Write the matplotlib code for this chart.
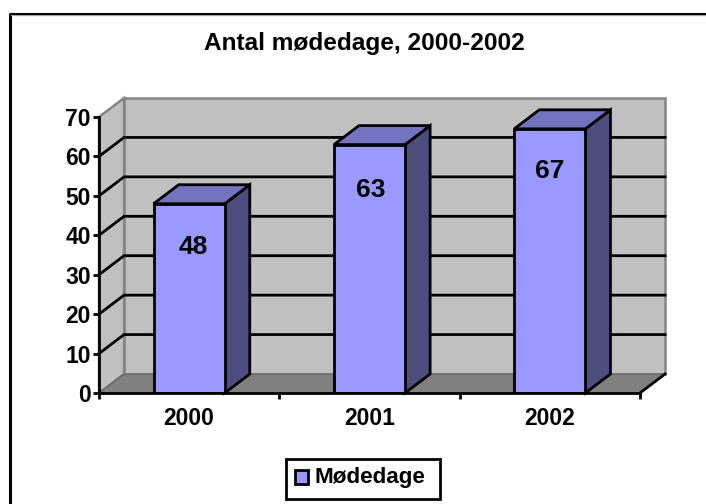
import matplotlib
matplotlib.use("Agg")
import matplotlib.pyplot as plt
from matplotlib.patches import Polygon, Rectangle

years = ["2000", "2001", "2002"]
modedage = [48, 63, 67]
yticks = [0, 10, 20, 30, 40, 50, 60, 70]
series_name = "Mødedage"
title = "Antal mødedage, 2000-2002"

W, H = 706, 504
plt.rcParams['font.family'] = ['Liberation Sans', 'DejaVu Sans']
plt.rcParams['font.weight'] = 'bold'

fig = plt.figure(figsize=(W / 100, H / 100), dpi=100)

# outer frame, only top and left edges are drawn
bg = fig.add_axes([0, 0, 1, 1])
bg.set_xlim(0, W)
bg.set_ylim(H, 0)
bg.axis('off')
bg.plot([9.5, 9.5, W], [H, 13.5, 13.5], color='black', lw=2.2, solid_capstyle='butt')
bg.plot([11, W], [15, 15], color='#a0a0a0', lw=0.8)

left, right, bottom, top = 99, 640, 393, 117
ax = fig.add_axes([left / W, 1 - bottom / H, (right - left) / W, (bottom - top) / H])
ax.set_xlim(-0.5, 2.5)
ax.set_ylim(0, 70)
ax.patch.set_alpha(0)

# depth of the 3d box in data units
dx = 25 / 180
dy = 19 / ((bottom - top) / 70)
bar_w = 71 / 180
black_lw = 2.0

def poly(pts, fc, ec, lw, z):
    ax.add_patch(Polygon(pts, closed=True, facecolor=fc, edgecolor=ec, lw=lw,
                         zorder=z, clip_on=False, joinstyle='miter'))

x0, x1 = -0.5, 2.5
# back wall, side wall and floor
poly([(x0 + dx, dy), (x1 + dx, dy), (x1 + dx, 70 + dy), (x0 + dx, 70 + dy)], '#c0c0c0', '#858585', 1.8, 1)
poly([(x0, 0), (x0 + dx, dy), (x0 + dx, 70 + dy), (x0, 70)], '#c0c0c0', '#858585', 1.8, 1)
poly([(x0, 0), (x1, 0), (x1 + dx, dy), (x0 + dx, dy)], '#808080', '#606060', 0.8, 1)
ax.plot([x1, x1 + dx], [0, dy], color='black', lw=black_lw, zorder=2, clip_on=False)

for v in yticks[1:-1]:
    ax.plot([x0, x0 + dx, x1 + dx], [v, v + dy, v + dy], color='black', lw=black_lw,
            zorder=2, clip_on=False, solid_joinstyle='miter')

# bars: front from ax.bar, top and side faces from the same values
for i, v in enumerate(modedage):
    a, b = i - bar_w / 2 - 0.0, i + bar_w / 2
    poly([(b, 0), (b + dx, dy), (b + dx, v + dy), (b, v)], '#4d4d80', 'black', black_lw, 3)
    poly([(a, v), (b, v), (b + dx, v + dy), (a + dx, v + dy)], '#7373bf', 'black', black_lw, 3)
ax.bar(range(len(years)), modedage, width=bar_w, color='#9999ff', edgecolor='black',
       linewidth=black_lw, zorder=4)

# value labels
label_px = [(193, 247), (371, 190), (550, 171)]
for v, (px, py) in zip(modedage, label_px):
    bg.text(px, py, str(v), ha='center', va='center', fontsize=19, fontweight='bold', zorder=10)
bg.set_zorder(5)

for s in ['top', 'right']:
    ax.spines[s].set_visible(False)
for s in ['left', 'bottom']:
    ax.spines[s].set_linewidth(black_lw)
    ax.spines[s].set_zorder(6)

ax.set_yticks(yticks)
ax.set_yticklabels([str(v) for v in yticks], fontsize=16.5, fontweight='bold')
ax.set_xticks([-0.5, 0.5, 1.5, 2.5], minor=False)
ax.set_xticklabels([])
ax.set_xticks(range(len(years)), minor=True)
ax.set_xticklabels(years, minor=True, fontsize=16.5, fontweight='bold')
ax.tick_params(axis='x', which='major', length=4.5, width=black_lw)
ax.tick_params(axis='x', which='minor', length=0, pad=10)
ax.tick_params(axis='y', length=4.5, width=black_lw, pad=1.5)

bg.text(364, 43.5, title, ha='center', va='center', fontsize=17.6, fontweight='bold')

# legend box
bg.add_patch(Rectangle((286, 458.5), 154, 40.5, facecolor='white', edgecolor='black', lw=black_lw))
bg.add_patch(Rectangle((294.5, 469.5), 13, 14, facecolor='#9999ff', edgecolor='black', lw=black_lw))
bg.text(314, 478, series_name, ha='left', va='center', fontsize=16.2, fontweight='bold')

fig.savefig("out.png", dpi=100)
